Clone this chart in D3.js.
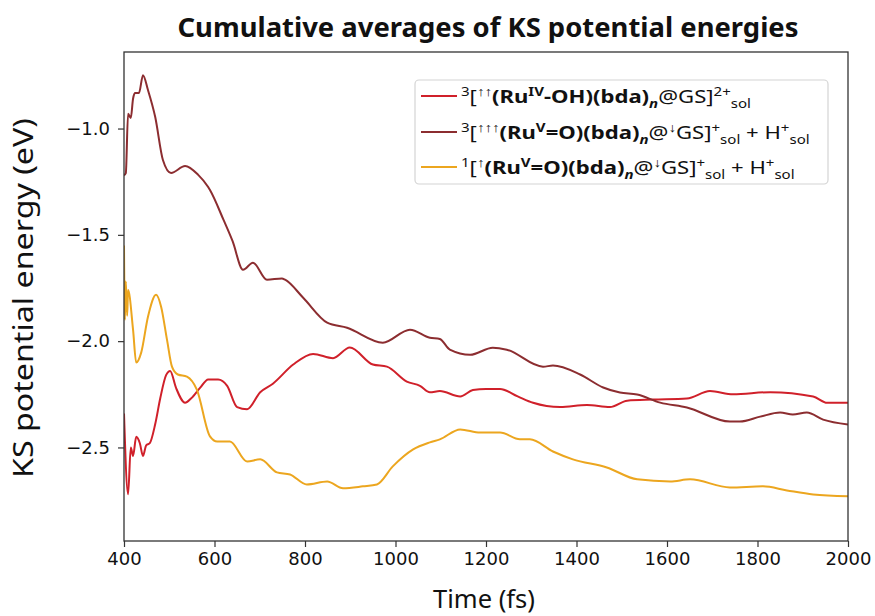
<!DOCTYPE html>
<html>
<head>
<meta charset="utf-8">
<script src="https://cdn.jsdelivr.net/npm/d3@7"></script>
<style>
  html, body { margin: 0; padding: 0; background: #fff; }
  svg { display: block; }
</style>
</head>
<body>
<svg id="chart" width="875" height="616"></svg>
<script>
// ---------- data ----------
const xTicks = [400, 600, 800, 1000, 1200, 1400, 1600, 1800, 2000];
const yTicks = [-1.0, -1.5, -2.0, -2.5];

// Series 1: 3[↑↑(RuIV-OH)(bda)n@GS]2+sol  (red)
const timeRuIV = [400, 409, 415, 420, 427, 435, 442, 449, 457, 469, 480, 493, 502, 515, 535, 548, 568, 586, 608, 628, 650, 672, 701, 729, 774, 818, 862, 899, 950, 981, 1025, 1054, 1076, 1098, 1143, 1171, 1200, 1231, 1270, 1304, 1364, 1423, 1474, 1512, 1569, 1644, 1695, 1746, 1828, 1923, 1954, 2000];
const energyRuIV = [-2.34, -2.72, -2.50, -2.54, -2.45, -2.48, -2.54, -2.49, -2.48, -2.39, -2.27, -2.16, -2.14, -2.22, -2.29, -2.27, -2.22, -2.18, -2.18, -2.21, -2.31, -2.32, -2.24, -2.20, -2.11, -2.06, -2.08, -2.03, -2.11, -2.12, -2.19, -2.21, -2.24, -2.235, -2.26, -2.23, -2.225, -2.225, -2.26, -2.29, -2.31, -2.30, -2.31, -2.28, -2.275, -2.27, -2.235, -2.25, -2.24, -2.26, -2.29, -2.29];

// Series 2: 3[↑↑↑(RuV=O)(bda)n@↓GS]+sol + H+sol  (dark red)
const timeRuVtriplet = [400, 404, 409, 415, 420, 424, 433, 442, 453, 469, 486, 504, 535, 564, 586, 590, 620, 640, 663, 685, 716, 749, 756, 796, 849, 893, 972, 1032, 1076, 1098, 1120, 1165, 1215, 1246, 1326, 1348, 1408, 1459, 1496, 1534, 1585, 1644, 1739, 1761, 1806, 1850, 1878, 1909, 1945, 2000];
const energyRuVtriplet = [-1.22, -1.21, -0.93, -0.95, -0.86, -0.833, -0.833, -0.749, -0.819, -0.946, -1.148, -1.209, -1.176, -1.218, -1.275, -1.289, -1.43, -1.53, -1.664, -1.631, -1.711, -1.705, -1.711, -1.796, -1.913, -1.937, -2.007, -1.946, -1.984, -1.99, -2.040, -2.064, -2.031, -2.040, -2.120, -2.115, -2.157, -2.218, -2.242, -2.251, -2.289, -2.312, -2.378, -2.378, -2.355, -2.336, -2.345, -2.336, -2.369, -2.392];

// Series 3: 1[↑(RuV=O)(bda)n@↓GS]+sol + H+sol  (yellow)
const timeRuVsinglet = [400, 402, 404, 407, 409, 420, 427, 438, 453, 471, 482, 495, 506, 519, 539, 561, 590, 606, 634, 672, 701, 738, 767, 804, 849, 884, 928, 959, 994, 1039, 1076, 1098, 1143, 1187, 1231, 1275, 1297, 1348, 1392, 1467, 1534, 1607, 1651, 1739, 1812, 1865, 1923, 2000];
const energyRuVsinglet = [-1.55, -1.90, -1.72, -1.88, -1.76, -1.946, -2.101, -2.054, -1.885, -1.782, -1.838, -1.993, -2.12, -2.157, -2.167, -2.228, -2.448, -2.472, -2.472, -2.566, -2.556, -2.617, -2.627, -2.674, -2.660, -2.692, -2.683, -2.674, -2.589, -2.509, -2.476, -2.462, -2.415, -2.430, -2.430, -2.462, -2.462, -2.519, -2.556, -2.594, -2.650, -2.660, -2.650, -2.688, -2.683, -2.702, -2.721, -2.730];

const seriesColors = ["#d0202a", "#8c2d30", "#eca61f"];

// ---------- layout ----------
const svg = d3.select("#chart");
const W = 875, H = 616;
const margin = { left: 124, right: W - 848, top: 52, bottom: H - 541 };

const x = d3.scaleLinear().domain([400, 2000]).range([margin.left, W - margin.right]);
const y = d3.scaleLinear().domain([-2.94, -0.64]).range([H - margin.bottom, margin.top]);

const tickFont = "'DejaVu Sans', sans-serif";
const labelFont = "'Noto Sans', 'Open Sans', sans-serif";

// Lines
const lineGen = d3.line().x(d => x(d[0])).y(d => y(d[1])).curve(d3.curveMonotoneX);
const series = [
  { t: timeRuIV, e: energyRuIV, c: seriesColors[0] },
  { t: timeRuVtriplet, e: energyRuVtriplet, c: seriesColors[1] },
  { t: timeRuVsinglet, e: energyRuVsinglet, c: seriesColors[2] }
];
const plotG = svg.append("g");
plotG.append("clipPath").attr("id", "clip").append("rect")
  .attr("x", margin.left).attr("y", margin.top)
  .attr("width", W - margin.left - margin.right).attr("height", H - margin.top - margin.bottom);
series.forEach(s => {
  plotG.append("path")
    .datum(s.t.map((t, i) => [t, s.e[i]]))
    .attr("clip-path", "url(#clip)")
    .attr("fill", "none")
    .attr("stroke", s.c)
    .attr("stroke-width", 2)
    .attr("stroke-linejoin", "round")
    .attr("d", lineGen);
});

// Axes
const xAxis = svg.append("g")
  .attr("transform", `translate(0,${H - margin.bottom})`)
  .call(d3.axisBottom(x).tickValues(xTicks).tickFormat(d3.format("d")).tickSize(6).tickPadding(5));
const yAxis = svg.append("g")
  .attr("transform", `translate(${margin.left},0)`)
  .call(d3.axisLeft(y).tickValues(yTicks).tickFormat(d => d3.format(".1f")(d).replace("-", "\u2212")).tickSize(6).tickPadding(8));
[xAxis, yAxis].forEach(a => {
  a.selectAll("text").attr("font-family", tickFont).attr("font-size", 18).attr("fill", "#111");
  a.selectAll("line").attr("stroke", "#333").attr("stroke-width", 1.2);
  a.select(".domain").remove();
});
// frame (spines)
svg.append("rect")
  .attr("x", margin.left).attr("y", margin.top)
  .attr("width", W - margin.left - margin.right).attr("height", H - margin.top - margin.bottom)
  .attr("fill", "none").attr("stroke", "#333").attr("stroke-width", 1.3);

// Title and axis labels
svg.append("text")
  .attr("x", 488).attr("y", 37)
  .attr("text-anchor", "middle")
  .attr("font-family", labelFont).attr("font-weight", "bold").attr("font-size", 27)
  .attr("textLength", 621).attr("lengthAdjust", "spacingAndGlyphs")
  .attr("fill", "#111")
  .text("Cumulative averages of KS potential energies");
svg.append("text")
  .attr("x", 484).attr("y", 608)
  .attr("text-anchor", "middle")
  .attr("font-family", labelFont).attr("font-size", 26)
  .attr("textLength", 102).attr("lengthAdjust", "spacingAndGlyphs")
  .attr("fill", "#111")
  .text("Time (fs)");
svg.append("text")
  .attr("transform", `translate(33,298) rotate(-90)`)
  .attr("text-anchor", "middle")
  .attr("font-family", labelFont).attr("font-size", 27)
  .attr("textLength", 360).attr("lengthAdjust", "spacingAndGlyphs")
  .attr("fill", "#111")
  .text("KS potential energy (eV)");

// Legend
const legendRows = [
  [ {t:"3", sup:1}, {t:"["}, {t:"\u2191\u2191", sup:1, b:1}, {t:"(Ru", b:1}, {t:"IV", sup:1, b:1}, {t:"-OH)(bda)", b:1}, {t:"n", sub:1, b:1, i:1}, {t:"@GS]"}, {t:"2+", sup:1}, {t:"sol", sub:1} ],
  [ {t:"3", sup:1}, {t:"["}, {t:"\u2191\u2191\u2191", sup:1, b:1}, {t:"(Ru", b:1}, {t:"V", sup:1, b:1}, {t:"=O)(bda)", b:1}, {t:"n", sub:1, b:1, i:1}, {t:"@"}, {t:"\u2193", sup:1, b:1}, {t:"GS]"}, {t:"+", sup:1}, {t:"sol", sub:1}, {t:" + H"}, {t:"+", sup:1}, {t:"sol", sub:1} ],
  [ {t:"1", sup:1}, {t:"["}, {t:"\u2191", sup:1, b:1}, {t:"(Ru", b:1}, {t:"V", sup:1, b:1}, {t:"=O)(bda)", b:1}, {t:"n", sub:1, b:1, i:1}, {t:"@"}, {t:"\u2193", sup:1, b:1}, {t:"GS]"}, {t:"+", sup:1}, {t:"sol", sub:1}, {t:" + H"}, {t:"+", sup:1}, {t:"sol", sub:1} ]
];
const legG = svg.append("g");
legG.append("rect")
  .attr("x", 415).attr("y", 80).attr("width", 413).attr("height", 104)
  .attr("rx", 4).attr("fill", "#fff").attr("stroke", "#d4d4d4").attr("stroke-width", 1.2);
const rowY = [96, 132, 167];
const baseFS = 18.5;
const legTexts = [];
legendRows.forEach((row, r) => {
  legG.append("line")
    .attr("x1", 421).attr("x2", 457).attr("y1", rowY[r]).attr("y2", rowY[r])
    .attr("stroke", seriesColors[r]).attr("stroke-width", 2);
  const txt = legG.append("text")
    .attr("transform", `translate(461,${rowY[r] + 7})`)
    .attr("font-family", labelFont).attr("font-size", baseFS).attr("fill", "#111");
  let cur = 0;
  row.forEach(seg => {
    let target = 0, fs = baseFS;
    if (seg.sup) { target = -7; fs = baseFS * 0.68; }
    if (seg.sub) { target = 5; fs = baseFS * 0.68; }
    const ts = txt.append("tspan")
      .attr("dy", target - cur)
      .attr("font-size", fs)
      .text(seg.t);
    if (seg.b) ts.attr("font-weight", "bold");
    if (seg.i) ts.attr("font-style", "italic");
    cur = target;
  });
  legTexts.push(txt);
});
// stretch legend rows horizontally so the longest row matches the legend box width
const widest = d3.max(legTexts, t => t.node().getComputedTextLength());
const sx = Math.min(1.35, (810 - 461) / widest);
legTexts.forEach((t, r) => t.attr("transform", `translate(461,${rowY[r] + 7}) scale(${sx},1)`));
</script>
</body>
</html>
